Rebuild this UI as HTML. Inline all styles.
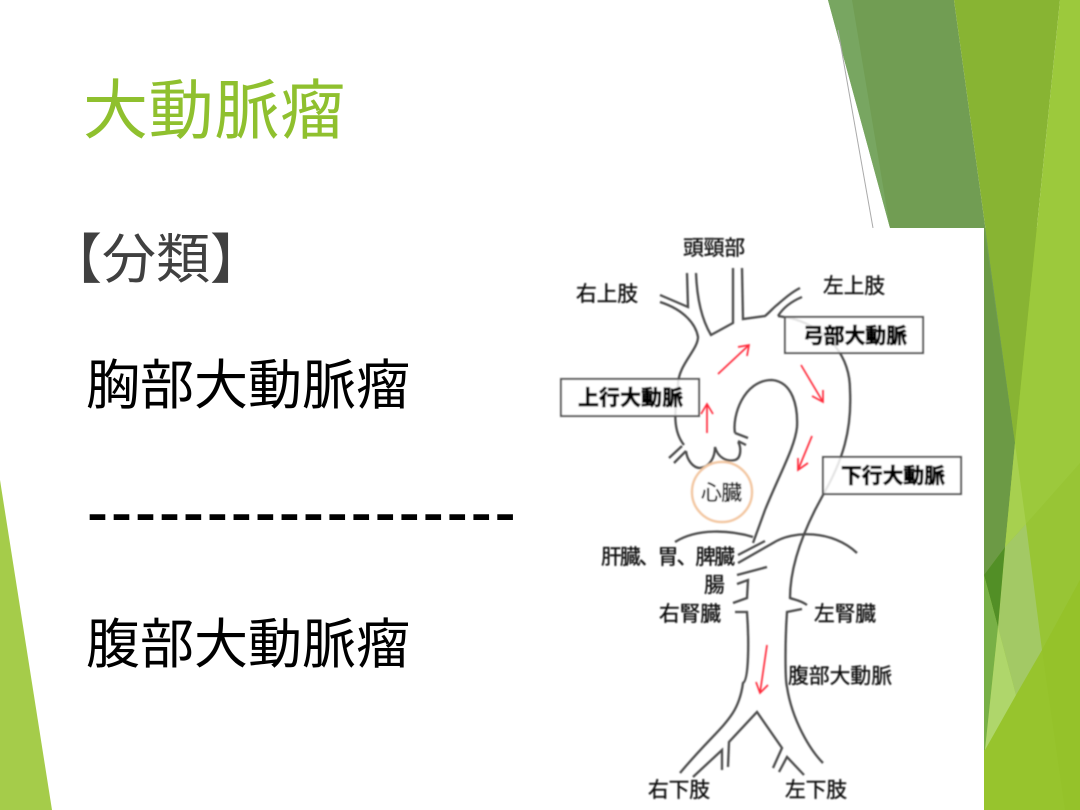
<!DOCTYPE html>
<html lang="ja">
<head>
<meta charset="utf-8">
<title>大動脈瘤</title>
<style>
html,body{margin:0;padding:0;background:#fff;width:1080px;height:810px;overflow:hidden}
svg{display:block}
text{font-family:"Liberation Sans","Noto Sans CJK JP",sans-serif}
</style>
</head>
<body>
<svg width="1080" height="810" viewBox="0 0 1080 810" xmlns="http://www.w3.org/2000/svg">
<defs>
<filter id="b" x="-5%" y="-5%" width="110%" height="110%"><feGaussianBlur stdDeviation="0.7"/></filter>
</defs>
<rect width="1080" height="810" fill="#fff"/>

<!-- Decorative background -->
<polygon points="0,480 52,810 0,810" fill="#a5cc4a"/>
<polygon points="984,228 1080,228 1080,810 984,810" fill="#97c42d"/>
<polygon points="828,0 954,0 1015,443 1005,547 984,575 984,300 890,228" fill="#719d53"/>
<polygon points="828,0 852,0 890,228" fill="#78a661"/>
<polygon points="984,228 1000,340 1015,443 1005,547 984,575" fill="#6c9a45"/>
<polygon points="954,0 1060,0 1015,443" fill="#88b433"/>
<polygon points="1060,0 1080,0 1080,465 1005,547 1015,443" fill="#9cc93c"/>
<polygon points="1080,463 1026,524 1042,650 1080,580" fill="#98c535"/>
<polygon points="1015,443 1026,524 1005,547" fill="#a7d04f"/>
<polygon points="1005,547 1026,524 1042,650 1016,695 998,627" fill="#a3c965"/>
<polygon points="984,575 1005,547 998,627" fill="#528f26"/>
<polygon points="984,575 998,627 985,750 984,750" fill="#78b046"/>
<polygon points="998,627 1016,695 985,750" fill="#afd66b"/>
<polygon points="1042,650 1080,580 1080,810 1065,810" fill="#95c22a"/>
<line x1="838" y1="30" x2="873" y2="228" stroke="#aaa" stroke-width="1"/>

<!-- White picture area -->
<rect x="555" y="228" width="429" height="582" fill="#fff"/>

<!-- Slide text -->
<text x="83" y="133" font-size="65" fill="#8fc02e" textLength="262">大動脈瘤</text>
<text x="48" y="278" font-size="54" fill="#404040">【分類】</text>
<text x="86" y="404" font-size="54" fill="#000" textLength="324">胸部大動脈瘤</text>
<text x="87.5" y="533" font-size="60" fill="#000" stroke="#000" stroke-width="1" letter-spacing="4">------------------</text>
<text x="86" y="663" font-size="54" fill="#000" textLength="324">腹部大動脈瘤</text>

<!-- Aorta diagram -->
<g filter="url(#b)">
<g fill="none" stroke="#4a4a4a" stroke-width="2.3">
<path d="M660,295 L688,307 L687,273"/>
<path d="M660,302 C685,310 696,325 698,337 C698,350 678,365 678,385 C675,410 672,430 684,445"/>
<path d="M669,458 L682,446 M674,463 L686,451"/>
<path d="M686,451 C687,460 693,468 700,468 C710,467 715,457 715,447 C718,458 727,462 735,460 C742,458 741,445 738,442"/>
<path d="M735,433 L748,438 M738,441 L746,445"/>
<path d="M735,433 C732,417 743,380 772,380 C793,382 798,407 797,427 C795,447 780,473 765,510 L753,543"/>
<path d="M696,273 C697,300 702,320 711,335 L733,323 L733,268"/>
<path d="M742,268 L743,319 L765,316 C770,312 773,308 777,305 C785,298 792,292 800,288"/>
<path d="M778,316 C783,308 790,302 802,297"/>
<path d="M778,316 L790,318 C820,325 850,350 850,390 C852,430 843,460 823,495 L815,510 C800,540 790,570 790,598 C795,600 800,600 807,605"/>
<path d="M802,609 L787,612 C785,640 785,680 787,687 C792,720 810,750 823,763"/>
<path d="M738,555 L765,541"/>
<path d="M738,563 L773,543 C793,530 833,530 857,553"/>
<path d="M675,542 C697,528 730,530 753,537"/>
<path d="M737,575 L767,567"/>
<path d="M737,584 L748,580 L747,598 L733,603"/>
<path d="M735,612 L747,612 C749,640 749,680 743,683 C738,720 720,725 680,773"/>
<path d="M693,777 L722,750 L722,770"/>
<path d="M728,767 L729,742 L757,712 L782,748 L773,768"/>
<path d="M779,772 L787,757 L804,775"/>
</g>
<circle cx="722" cy="492" r="30" fill="#fff" fill-opacity="0.85" stroke="#f3c8a3" stroke-width="2.5"/>

<g fill="#fff" fill-opacity="0.85" stroke="#555" stroke-width="2">
<rect x="785" y="317" width="138" height="36"/>
<rect x="561" y="379" width="138" height="37"/>
<rect x="823" y="457" width="138" height="37"/>
</g>

<g fill="none" stroke="#ff2a3a" stroke-width="1.7">
<path d="M718,374 L749,345 M738,347 L749,345 L747,356"/>
<path d="M707,433 L707,404 M701,414 L707,404 L713,414"/>
<path d="M801,365 L823,402 M812,396 L823,402 L823,390"/>
<path d="M812,436 L798,470 M798,458 L798,470 L808,463"/>
<path d="M767,645 L760,693 M756,682 L760,693 L768,685"/>
</g>

<g fill="#111" stroke="#111" stroke-width="0.35" font-size="20.8">
<text x="683" y="255" textLength="62">頭頸部</text>
<text x="576" y="301" textLength="62">右上肢</text>
<text x="823" y="293" textLength="62">左上肢</text>
<text x="701" y="500" textLength="41">心臓</text>
<text x="601" y="564" textLength="134">肝臓、胃、脾臓</text>
<text x="704" y="592">腸</text>
<text x="659" y="621" textLength="62">右腎臓</text>
<text x="814" y="621" textLength="62">左腎臓</text>
<text x="788" y="683" textLength="104">腹部大動脈</text>
<text x="648" y="797" textLength="62">右下肢</text>
<text x="785" y="797" textLength="62">左下肢</text>
</g>
<g fill="#000" stroke="#000" stroke-width="0.7" font-size="20.8" font-weight="700">
<text x="803" y="343" textLength="104">弓部大動脈</text>
<text x="578" y="405" textLength="105">上行大動脈</text>
<text x="841" y="483" textLength="104">下行大動脈</text>
</g>
</g>
</svg>
</body>
</html>
